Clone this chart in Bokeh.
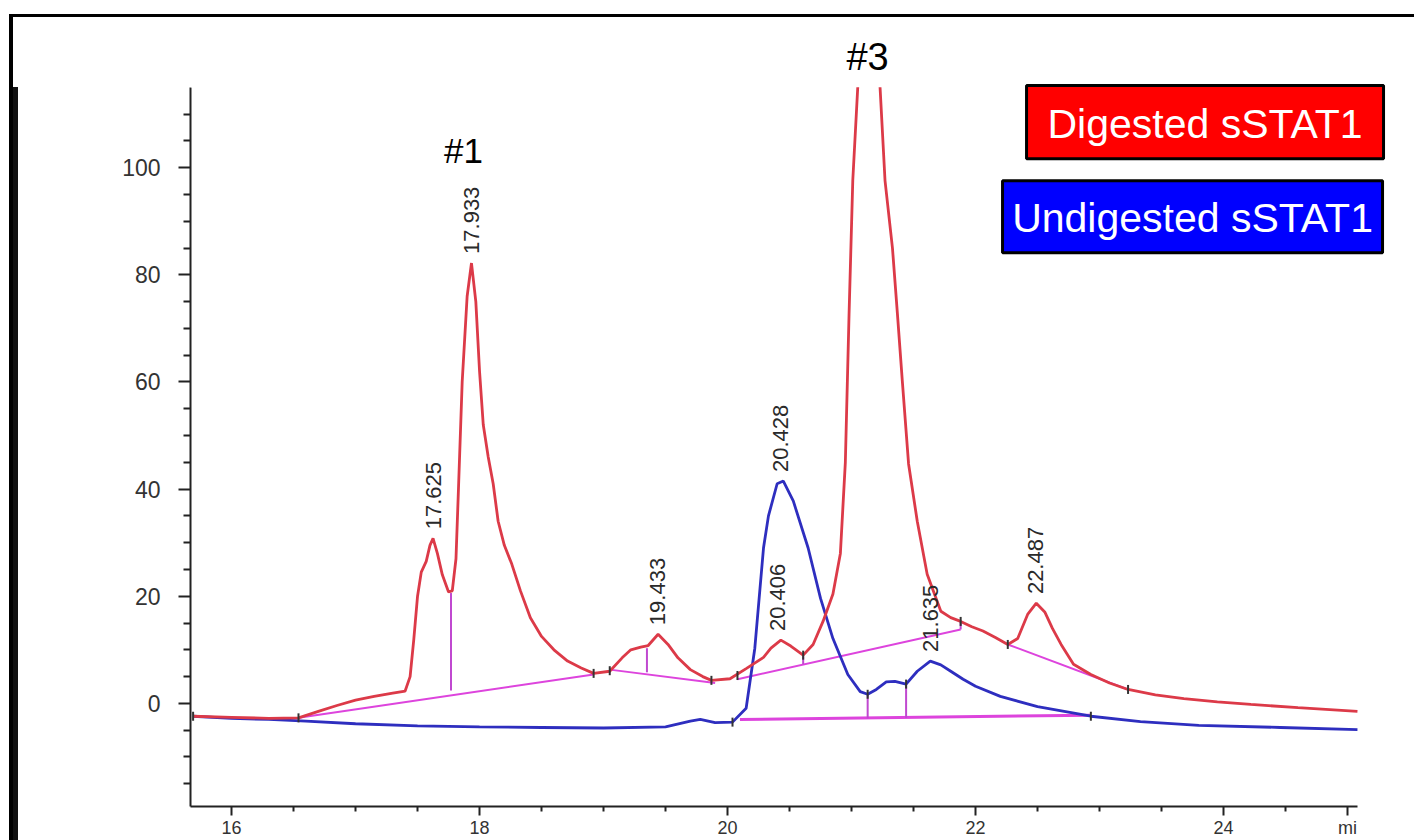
import math
from bokeh.plotting import figure
from bokeh.models import (Range1d, FixedTicker, BoxAnnotation, Label, ColumnDataSource,
                          InlineStyleSheet)
from bokeh.core.properties import value
from bokeh.embed import file_html
from bokeh.resources import INLINE

# ---------------- data ----------------
# Digested sSTAT1 (red trace): retention time (min) vs signal
red_t = [15.69, 16.00, 16.30, 16.54, 16.70, 16.85, 17.00, 17.15, 17.30, 17.40,
         17.44, 17.47, 17.50, 17.53, 17.57, 17.60, 17.625, 17.66, 17.70, 17.75,
         17.78, 17.81, 17.83, 17.86, 17.90, 17.935, 17.97, 18.00, 18.03, 18.07,
         18.11, 18.15, 18.20, 18.26, 18.33, 18.41, 18.50, 18.60, 18.71, 18.82,
         18.92, 19.05, 19.15, 19.22, 19.30, 19.36, 19.44, 19.52, 19.60, 19.70,
         19.80, 19.87, 20.02, 20.15, 20.29, 20.35, 20.43, 20.51, 20.61, 20.69,
         20.77, 20.85, 20.91, 20.95, 20.98, 21.01, 21.05, 21.09, 21.14, 21.19,
         21.23, 21.27, 21.33, 21.37, 21.41, 21.46, 21.53, 21.61, 21.72, 21.80,
         21.88, 21.97, 22.06, 22.16, 22.26, 22.34, 22.42, 22.49, 22.56, 22.62,
         22.69, 22.79, 22.93, 23.08, 23.23, 23.45, 23.68, 23.95, 24.22, 24.60,
         25.08]
red_v = [-2.4, -2.6, -2.8, -2.7, -1.5, -0.4, 0.6, 1.3, 1.9, 2.3,
         5.0, 12.0, 20.0, 24.5, 26.5, 29.5, 30.8, 28.0, 24.0, 20.8,
         21.0, 27.0, 40.0, 60.0, 76.0, 82.2, 75.0, 62.0, 52.0, 46.0,
         41.0, 34.0, 29.5, 26.0, 21.0, 16.0, 12.5, 10.0, 7.9, 6.6,
         5.6, 6.0, 8.5, 10.0, 10.5, 10.8, 12.9, 11.0, 8.5, 6.3,
         5.0, 4.3, 4.6, 6.5, 8.6, 10.3, 11.8, 10.7, 9.0, 11.0,
         15.3, 20.4, 28.0, 45.0, 72.7, 97.6, 115.0, 122.0, 125.0, 122.0,
         115.0, 97.6, 85.0, 72.7, 60.0, 44.7, 34.0, 24.1, 17.2, 16.0,
         15.3, 14.3, 13.5, 12.3, 11.0, 12.1, 16.6, 18.7, 17.0, 14.0,
         11.0, 7.3, 5.4, 3.8, 2.6, 1.6, 0.9, 0.3, -0.2, -0.8,
         -1.5]

# Undigested sSTAT1 (blue trace)
blue_t = [15.69, 16.00, 16.30, 16.60, 17.00, 17.50, 18.00, 18.50, 19.00, 19.50,
          19.70, 19.78, 19.90, 20.04, 20.15, 20.22, 20.29, 20.33, 20.40, 20.45,
          20.53, 20.65, 20.75, 20.85, 20.97, 21.07, 21.13, 21.20, 21.28, 21.35,
          21.44, 21.53, 21.635, 21.72, 21.80, 21.90, 22.00, 22.20, 22.50, 22.93,
          23.33, 23.80, 24.46, 25.08]
blue_v = [-2.4, -2.8, -3.0, -3.3, -3.8, -4.2, -4.4, -4.5, -4.6, -4.4,
          -3.3, -3.0, -3.6, -3.5, -0.9, 10.3, 29.0, 35.0, 41.0, 41.5,
          37.8, 29.0, 19.6, 12.1, 5.4, 2.2, 1.7, 2.6, 4.0, 4.1,
          3.6, 6.0, 7.9, 7.2, 6.0, 4.5, 3.2, 1.3, -0.6, -2.4,
          -3.4, -4.1, -4.5, -4.9]

# integration baselines (start / end of each baseline segment)
red_base_x0 = [16.54, 19.05, 20.08, 22.26]
red_base_y0 = [-2.7, 6.3, 4.5, 11.0]
red_base_x1 = [18.92, 19.90, 21.88, 23.23]
red_base_y1 = [5.4, 3.8, 13.8, 2.6]
blue_base_x0 = [20.10]
blue_base_y0 = [-3.0]
blue_base_x1 = [22.93]
blue_base_y1 = [-2.2]

# peak drop lines
drop_x = [17.77, 19.35, 20.61, 21.88, 21.13, 21.44]
drop_top = [20.6, 10.3, 8.8, 15.3, 1.7, 3.6]
drop_bottom = [2.4, 5.8, 7.3, 13.8, -2.8, -2.7]

# integration event markers
event_x = [15.69, 16.54, 18.92, 19.05, 19.87, 20.08, 20.61, 21.88, 22.26, 23.23,
           20.04, 21.13, 21.44, 22.93]
event_y = [-2.4, -2.7, 5.6, 6.1, 4.3, 5.2, 9.0, 15.3, 11.0, 2.6,
           -3.5, 1.7, 3.6, -2.4]

# peak retention-time annotations
peak_times = [17.625, 17.933, 19.433, 20.406, 20.428, 21.635, 22.487]
peak_heights = [30.8, 82.2, 12.9, 11.8, 41.5, 7.9, 18.7]
peak_labels = ["17.625", "17.933", "19.433", "20.406", "20.428", "21.635", "22.487"]

y_ticks = [0, 20, 40, 60, 80, 100]
y_minor = [-15, -10, -5, 5, 10, 15, 25, 30, 35, 45, 50, 55, 65, 70, 75, 85, 90, 95, 105, 110]
x_ticks = [16, 18, 20, 22, 24, 25]
x_tick_text = {25: "mi"}
x_minor = [16.5, 17, 17.5, 18.5, 19, 19.5, 20.5, 21, 21.5, 22.5, 23, 23.5, 24.5]

series_names = ["Digested sSTAT1", "Undigested sSTAT1"]
peak_tags = ["#1", "#3"]

# ---------------- styles ----------------
RED = "#dc3a48"
BLUE = "#2e2ebf"
MAG = "#dd44dd"
FONT = "Liberation Sans"
Y_LO = -19.25

frame_css = InlineStyleSheet(css="""
:host::before { content: ""; position: absolute; left: 12px; top: 87px; width: 6px;
                bottom: 0px; background: #111111; z-index: 5; pointer-events: none; }
:host::after  { content: ""; position: absolute; left: 9px; top: 14px; right: 0px;
                bottom: 0px; border-left: 4px solid #000000; border-top: 3px solid #000000;
                z-index: 6; pointer-events: none; }
""")

p = figure(width=1414, height=840, output_backend="svg", toolbar_location=None,
           x_range=Range1d(15.669, 25.540), y_range=Range1d(Y_LO, 131.21),
           min_border_left=190, min_border_right=0, min_border_top=0, min_border_bottom=0)
p.stylesheets = [frame_css]
p.outline_line_color = None
p.xgrid.visible = False
p.ygrid.visible = False
p.background_fill_color = "white"
p.border_fill_color = "white"

for ax in (p.xaxis[0], p.yaxis[0]):
    ax.axis_line_color = "#222222"
    ax.axis_line_width = 2
    ax.major_tick_line_color = "#222222"
    ax.major_tick_line_width = 2
    ax.minor_tick_line_color = "#222222"
    ax.minor_tick_line_width = 2
    ax.major_tick_in = 0
    ax.minor_tick_in = 0
    ax.major_label_text_font = FONT
    ax.major_label_text_color = "#333333"

p.yaxis.ticker = FixedTicker(ticks=y_ticks, minor_ticks=y_minor)
p.yaxis.bounds = (Y_LO, 115.0)
p.yaxis.major_tick_out = 12
p.yaxis.minor_tick_out = 7
p.yaxis.major_label_text_font_size = "23px"
p.yaxis.major_label_standoff = 18

p.xaxis.ticker = FixedTicker(ticks=x_ticks, minor_ticks=x_minor)
p.xaxis.major_label_overrides = x_tick_text
p.xaxis.bounds = (15.669, 25.081)
p.xaxis.major_tick_out = 9
p.xaxis.minor_tick_out = 5
p.xaxis.major_label_text_font_size = "18px"
p.xaxis.major_label_standoff = 2

# baselines and drop lines
p.segment(x0=red_base_x0, y0=red_base_y0, x1=red_base_x1, y1=red_base_y1,
          line_color=MAG, line_width=2)
p.segment(x0=blue_base_x0, y0=blue_base_y0, x1=blue_base_x1, y1=blue_base_y1,
          line_color=MAG, line_width=3)
p.segment(x0=drop_x, y0=drop_bottom, x1=drop_x, y1=drop_top,
          line_color="#c048d0", line_width=2)

# traces
p.line(blue_t, blue_v, line_color=BLUE, line_width=2.8)
p.line(red_t, red_v, line_color=RED, line_width=2.8)

# event markers
p.scatter(event_x, event_y, marker="dash", angle=math.pi / 2, size=9,
          line_color="#333333", line_width=2)

# peak labels
lab_src = ColumnDataSource(dict(x=peak_times, y=[h + 1.7 for h in peak_heights], t=peak_labels))
p.text(x="x", y="y", text="t", source=lab_src, angle=math.pi / 2,
       text_align="left", text_baseline="middle", text_font=value(FONT),
       text_font_size="22px", text_color="#2a2a2a")

# ---------------- decorations ----------------
# the chromatogram image ends at the top of the y axis: white above it
p.add_layout(BoxAnnotation(bottom=115.0, fill_color="white", fill_alpha=1, line_alpha=0))

# legend boxes
p.add_layout(BoxAnnotation(left=22.4113, right=25.2903, top=115.33, bottom=101.68,
                           fill_color="#ff0000", fill_alpha=1, line_color="black",
                           line_alpha=1, line_width=3))
p.add_layout(BoxAnnotation(left=22.2177, right=25.2823, top=97.57, bottom=84.11,
                           fill_color="#0000ff", fill_alpha=1, line_color="black",
                           line_alpha=1, line_width=3))
p.add_layout(Label(x=23.851, y=108.2, text=series_names[0], text_align="center",
                   text_baseline="middle", text_font=FONT, text_font_size="41px",
                   text_color="white"))
p.add_layout(Label(x=23.75, y=90.6, text=series_names[1], text_align="center",
                   text_baseline="middle", text_font=FONT, text_font_size="41px",
                   text_color="white"))

# peak tags
p.add_layout(Label(x=17.871, y=103.2, text=peak_tags[0], text_align="center",
                   text_baseline="alphabetic", text_font=FONT, text_font_size="35px",
                   text_color="black"))
p.add_layout(Label(x=21.129, y=120.6, text=peak_tags[1], text_align="center",
                   text_baseline="alphabetic", text_font=FONT, text_font_size="38px",
                   text_color="black"))

open("out.html", "w").write(file_html(p, INLINE))
